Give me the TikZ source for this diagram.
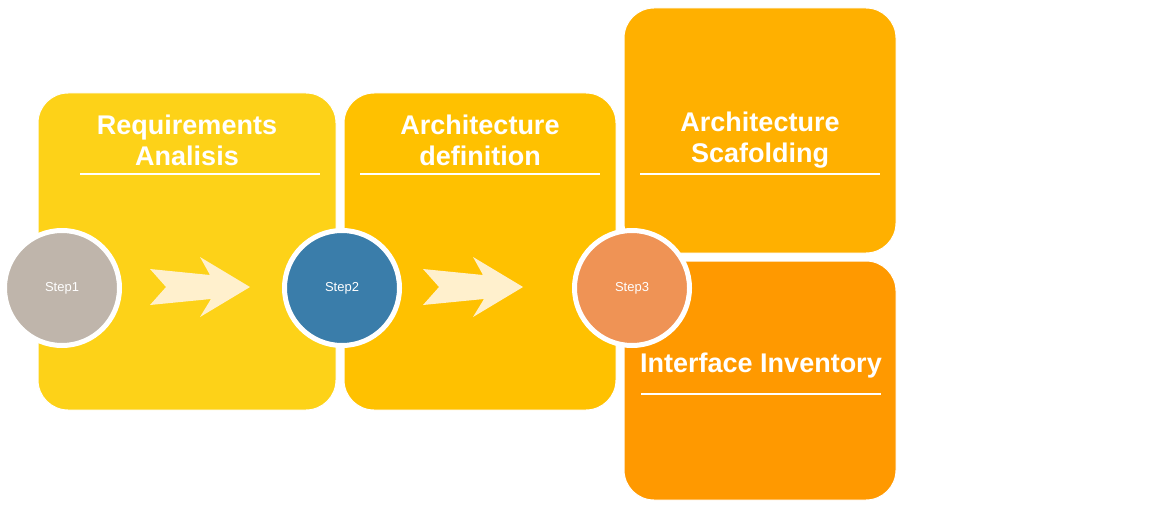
\documentclass[tikz,border=0pt]{standalone}
\usepackage{fontspec}
\setmainfont{Liberation Sans}
\definecolor{reqcol}{RGB}{253,210,24}
\definecolor{defcol}{RGB}{255,193,0}
\definecolor{scafcol}{RGB}{255,176,0}
\definecolor{invcol}{RGB}{255,153,0}
\definecolor{onecol}{RGB}{191,181,171}
\definecolor{twocol}{RGB}{58,125,170}
\definecolor{threecol}{RGB}{239,147,85}
\definecolor{chevcol}{RGB}{255,240,205}
\begin{document}
\begin{tikzpicture}[
                x = 1pt, y = -1pt,
                stage/.style = {draw = white, line width = 1pt, rounded corners = 30pt, inner sep = 0mm},
                title/.style = {text = white, align = center, font = \fontsize{27}{31}\selectfont\bfseries},
                rule/.style = {draw = white, line width = 1.5pt},
                stepdot/.style = {circle, draw = white, line width = 5pt, inner sep = 0mm, minimum size = 115pt,
                                  text = white, font = \fontsize{13}{15}\selectfont},
                chev/.pic = {\fill[chevcol] (0,-18) -- (16,0) -- (0,18) -- (61,12) -- (50,30)
                              -- (100,0) -- (50,-30) -- (60,-12) -- cycle;},
            ]
            \useasboundingbox (0,0) rectangle (1161,508);

            \node (req) [stage, fill=reqcol, minimum width=298pt, minimum height=317pt] at (187,251.5){};
            \node (def) [stage, fill=defcol, minimum width=272pt, minimum height=317pt] at (480,251.5){};
            \node (scaf) [stage, fill=scafcol, minimum width=272pt, minimum height=245pt] at (760,130.5){};
            \node (inv) [stage, fill=invcol, minimum width=272pt, minimum height=239pt] at (760,380.5){};

            \node (reqt) [title] at (187,140){Requirements\\Analisis};
            \node (deft) [title] at (480,140){Architecture\\definition};
            \node (scaft) [title] at (760,140){Architecture\\Scafolding};
            \node (invt) [title] at (761,366){Interface Inventory};

            \path[rule] (80,174) -- (320,174);
            \path[rule] (360,174) -- (600,174);
            \path[rule] (640,174) -- (880,174);
            \path[rule] (641,394) -- (881,394);

            \pic at (150,287) {chev};
            \pic at (423,287) {chev};

            \node (s1) [stepdot, fill=onecol] at (62,288){Step1};
            \node (s2) [stepdot, fill=twocol] at (342,288){Step2};
            \node (s3) [stepdot, fill=threecol] at (632,288){Step3};
        \end{tikzpicture}
\end{document}
